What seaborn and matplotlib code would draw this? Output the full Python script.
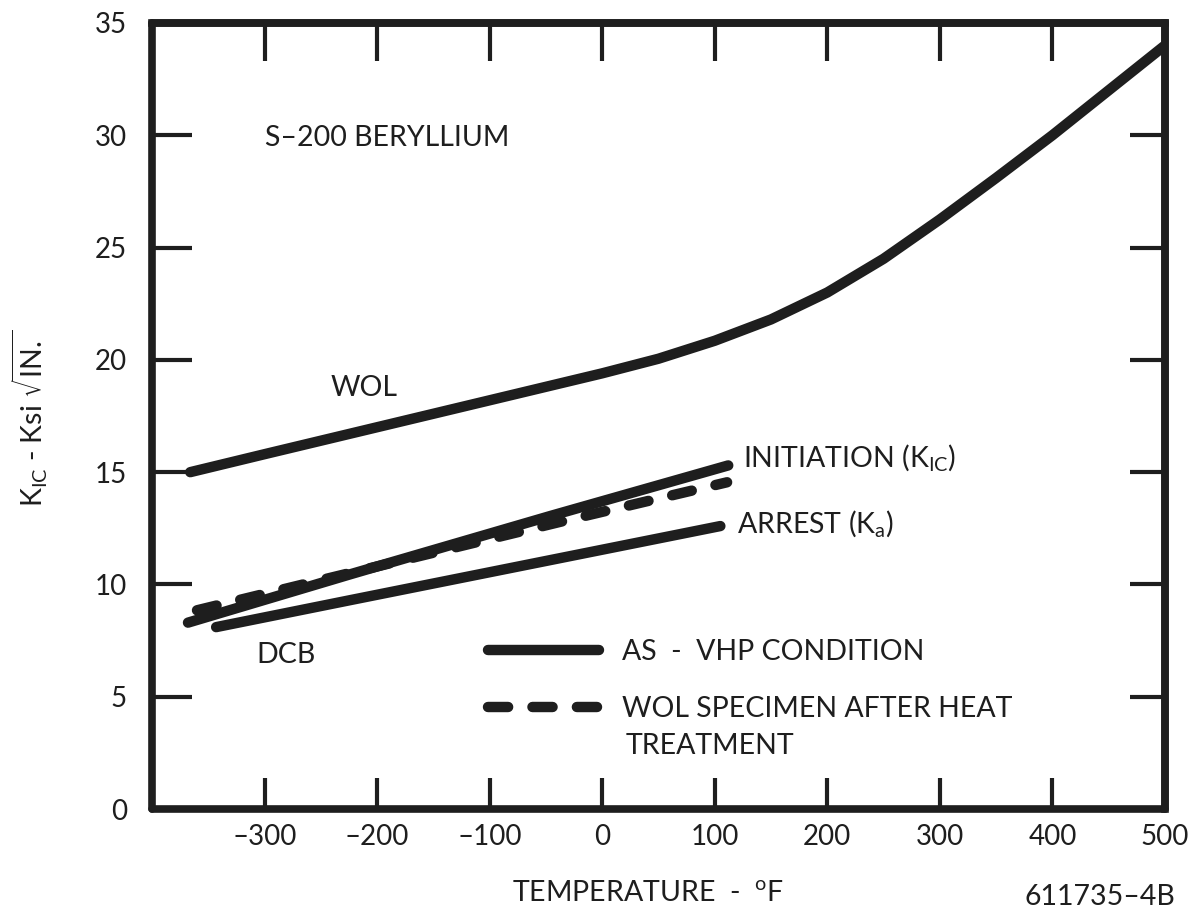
import matplotlib
matplotlib.use("Agg")
import matplotlib.pyplot as plt
import seaborn as sns
import pandas as pd

# ---- data ----
wol_temp = [-366, -300, -200, -100, 0, 50, 100, 150, 200, 250, 300, 350, 400, 450, 500]
wol_k = [15.0, 15.8, 17.0, 18.2, 19.4, 20.05, 20.85, 21.8, 23.0, 24.5, 26.25, 28.1, 30.0, 32.0, 34.0]

init_temp = [-368, -224, -46, 112]
init_k = [8.3, 10.45, 13.05, 15.3]

heat_temp = [-360, -28, 111]
heat_k = [8.85, 12.9, 14.55]

arrest_temp = [-343, -224, 105]
arrest_k = [8.1, 9.3, 12.6]

x_ticks = [-300, -200, -100, 0, 100, 200, 300, 400, 500]
y_ticks = [0, 5, 10, 15, 20, 25, 30, 35]

legend_labels = ["AS  -  VHP CONDITION", "WOL SPECIMEN AFTER HEAT"]

sns.set_theme(style="white")
plt.rcParams["font.family"] = ["Lato", "DejaVu Sans"]
plt.rcParams["mathtext.default"] = "regular"
plt.rcParams["lines.scale_dashes"] = False

INK = "#1e1e1e"
LW = 7.5
DASH = (0, (14.5, 17.5))

fig = plt.figure(figsize=(11.92, 9.15), dpi=100)
ax = fig.add_axes([0.1275, 0.1158, 0.9773 - 0.1275, 0.9749 - 0.1158])

def draw(x, y, **kw):
    df = pd.DataFrame({"T": x, "K": y})
    sns.lineplot(data=df, x="T", y="K", ax=ax, estimator=None, sort=False,
                 color=INK, linewidth=LW, solid_capstyle="round",
                 solid_joinstyle="round", dash_capstyle="round", **kw)

draw(wol_temp, wol_k)
draw(init_temp, init_k)
draw(heat_temp, heat_k, linestyle=DASH)
draw(arrest_temp, arrest_k)

ax.set_xlim(-400, 500)
ax.set_ylim(0, 35)
ax.set_xticks(x_ticks)
ax.set_yticks(y_ticks)
ax.set_xticklabels([f"{v:d}".replace("-", "\u2013") for v in x_ticks])
ax.set_xlabel("")
ax.set_ylabel("")

for s in ax.spines.values():
    s.set_linewidth(5.5)
    s.set_color(INK)
    s.set_capstyle("round")

ax.tick_params(axis="x", direction="in", length=22, width=3, color=INK,
               labelsize=20, pad=11, labelcolor=INK, bottom=True, top=False)
ax.tick_params(axis="y", direction="in", length=29, width=3, color=INK,
               labelsize=20, pad=18, labelcolor=INK, left=True, right=False)

topx = ax.secondary_xaxis("top")
topx.set_xticks(x_ticks[:-1])
topx.tick_params(direction="in", length=27, width=3, color=INK, labeltop=False)
topx.spines["top"].set_linewidth(5.5)
topx.spines["top"].set_color(INK)
righty = ax.secondary_yaxis("right")
righty.set_yticks(y_ticks[1:-1])
righty.tick_params(direction="in", length=25, width=3, color=INK, labelright=False)
righty.spines["right"].set_linewidth(5.5)
righty.spines["right"].set_color(INK)

txt = dict(fontsize=20.5, color=INK)
ax.text(-300, 29.9, "S\u2013200 BERYLLIUM", ha="left", va="center", **txt)
ax.text(-212, 18.75, "WOL", ha="center", va="center", **txt)
ax.text(-281, 6.85, "DCB", ha="center", va="center", **txt)
ax.text(125, 15.67, r"INITIATION (K$_{IC}$)", ha="left", va="center", **txt)
ax.text(120, 12.73, r"ARREST (K$_{a}$)", ha="left", va="center", **txt)

lines = ax.get_lines()
leg = ax.legend(handles=[lines[1], lines[2]], labels=legend_labels,
                loc="upper left", bbox_to_anchor=(488 / 1192, 1 - 639 / 915),
                bbox_transform=fig.transFigure, frameon=False, fontsize=20.5,
                handlelength=3.9, handletextpad=0.8, labelspacing=1.08,
                borderpad=0, borderaxespad=0)
for t in leg.get_texts():
    t.set_color(INK)
ax.annotate("TREATMENT", xy=(0, 0.5), xycoords=leg.get_texts()[1],
            xytext=(3, -27), textcoords="offset points",
            ha="left", va="center", zorder=10, **txt)

fig.text(30 / 1192, 1 - 418 / 915, r"K$_{IC}$ - Ksi $\sqrt{IN.}$",
         rotation=90, ha="center", va="center", fontsize=20.5, color=INK)
fig.text(512 / 1192, 1 - 893 / 915, r"TEMPERATURE  -  $^{o}$F",
         ha="left", va="center", fontsize=20.5, color=INK)
fig.text(1175 / 1192, 1 - 897 / 915, "611735\u20134B",
         ha="right", va="center", fontsize=20.5, color=INK)

fig.savefig("out.png", dpi=100)
